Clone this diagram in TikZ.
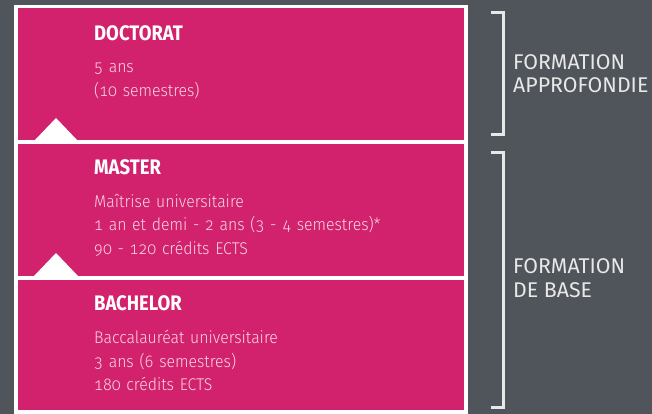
\documentclass[tikz,border=0pt]{standalone}
\usepackage{fontspec}
\setmainfont{Fira Sans}[Numbers={OldStyle,Monospaced}]
\newfontfamily\bodyfont{Fira Sans Light}[Numbers={OldStyle,Monospaced},FakeStretch=0.93,WordSpace=1.3]
\newfontfamily\titlefont{Fira Sans Bold}[FakeStretch=0.88]
\definecolor{bggray}{HTML}{4F555B}
\definecolor{pink}{HTML}{D3226D}
\definecolor{bodytxt}{HTML}{F7D6E3}
\definecolor{labtxt}{HTML}{E8E8E8}
\begin{document}
\begin{tikzpicture}[x=1pt,y=-1pt,
  box/.style={fill=pink,draw=none,inner sep=0pt},
  ttl/.style={anchor=base west,inner sep=0pt,text=white,font=\titlefont\fontsize{21}{25}\selectfont},
  bodyline/.style={anchor=base west,inner sep=0pt,text=bodytxt,font=\bodyfont\fontsize{17}{20}\selectfont},
  lab/.style={anchor=base west,inner sep=0pt,text=labtxt,font=\fontsize{21.3}{25}\selectfont},
  bracket/.style={draw=labtxt,line width=3pt},
  tri/.style={fill=white,draw=none}]
\useasboundingbox (0,0) rectangle (652,414);
\fill[bggray] (0,0) rectangle (652,414);
\fill[white] (14,5) rectangle (468,414);
\fill[box] (18,8) rectangle (464,140);
\fill[box] (18,144) rectangle (464,276);
\fill[box] (18,280) rectangle (464,410);
\fill[tri] (35,140) -- (56,118) -- (77,140) -- cycle;
\fill[tri] (34,276) -- (56,253) -- (78,276) -- cycle;
% DOCTORAT
\node[ttl] (doct) at (94,41) {DOCTORAT};
\node[bodyline] (d1) at (94,73) {5 ans};
\node[bodyline] (d2) at (94,97) {(10 semestres)};
% MASTER
\node[ttl] (mast) at (94,175) {MASTER};
\node[bodyline] (m1) at (94,207) {Maîtrise universitaire};
\node[bodyline] (m2) at (94,230) {1 an et demi - 2 ans (3 - 4 semestres)*};
\node[bodyline] (m3) at (94,254) {90 - 120 crédits ECTS};
% BACHELOR
\node[ttl] (bach) at (94,310) {BACHELOR};
\node[bodyline] (b1) at (94,343) {Baccalauréat universitaire};
\node[bodyline] (b2) at (94,367) {3 ans (6 semestres)};
\node[bodyline] (b3) at (94,390) {180 crédits ECTS};
% brackets
\coordinate (a1) at (491,13);
\coordinate (a2) at (503,13);
\coordinate (a3) at (503,135);
\coordinate (a4) at (491,135);
\draw[bracket] (a1) -- (a2) -- (a3) -- (a4);
\coordinate (c1) at (491,153);
\coordinate (c2) at (503,153);
\coordinate (c3) at (503,407);
\coordinate (c4) at (491,407);
\draw[bracket] (c1) -- (c2) -- (c3) -- (c4);
\node[lab] (l1a) at (513,70) {FORMATION};
\node[lab] (l1b) at (513,93) {APPROFONDIE};
\node[lab] (l2a) at (513,273) {FORMATION};
\node[lab] (l2b) at (513,297) {DE BASE};
\end{tikzpicture}
\end{document}
